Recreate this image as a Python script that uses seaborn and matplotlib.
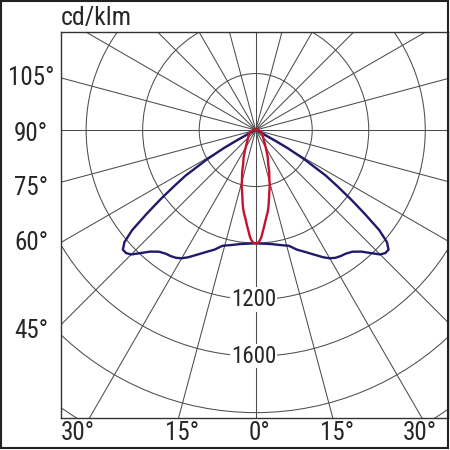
import numpy as np
import pandas as pd
import matplotlib
matplotlib.use("Agg")
import matplotlib.pyplot as plt
import seaborn as sns
from matplotlib.patches import Circle, Rectangle

# luminous intensity, cd/klm, vs gamma (deg from nadir)
# C0/C180 plane (blue, wide)
gamma_c0 = [0, 4, 8, 12, 16, 19, 22, 25, 28, 30, 32, 34, 36, 38.5, 41, 43, 45,
            46.5, 48, 49.5, 51, 52.5, 54, 55.5, 57, 59, 60.5, 61.5, 62.5, 65,
            70, 80, 90, 105, 120, 180]
cd_c0 = [802, 806, 815, 832, 852, 895, 930, 972, 1020, 1048, 1066, 1076, 1082,
         1100, 1140, 1190, 1245, 1265, 1265, 1222, 1125, 970, 830, 700, 590,
         400, 260, 150, 70, 35, 25, 18, 12, 6, 0, 0]
# C90/C270 plane (red, narrow)
gamma_c90 = [0, 1, 2, 3, 4, 5, 6, 7, 8, 9, 10, 12, 14, 16, 18, 20, 24, 28, 35,
             45, 56, 70, 90, 110, 130, 180]
cd_c90 = [802, 800, 785, 760, 720, 685, 650, 620, 595, 565, 530, 460, 410, 350,
          310, 260, 210, 160, 110, 75, 60, 40, 20, 8, 0, 0]

ring_values = [400, 800, 1200, 1600, 2000, 2400]
ring_labels = [1200, 1600]
spoke_step = 15
left_labels = ["105°", "90°", "75°", "60°", "45°"]
left_label_y = [368, -28, -410, -796, -1422]
bottom_labels = ["30°", "15°", "0°", "15°", "30°"]
bottom_angles = [-30, -15, 0, 15, 30]

XLIM = (-1378, 1361)
YLIM = (-2038, 694)
BLUE = "#1f1a6b"
RED = "#c4122f"
GRID = "#4d4d4d"


def to_xy(gamma, cd, name):
    g = np.radians(np.asarray(gamma, dtype=float))
    r = np.asarray(cd, dtype=float)
    # left half goes from zenith down to nadir, right half back up
    x = np.concatenate([-r[::-1] * np.sin(g[::-1]), r * np.sin(g)])
    y = np.concatenate([-r[::-1] * np.cos(g[::-1]), -r * np.cos(g)])
    return pd.DataFrame({"x": x, "y": y, "plane": name})


df = pd.concat([to_xy(gamma_c0, cd_c0, "C0-C180"),
                to_xy(gamma_c90, cd_c90, "C90-C270")], ignore_index=True)

sns.set_theme(style="white")
plt.rcParams["font.family"] = ["Roboto Condensed", "Liberation Sans Narrow", "DejaVu Sans"]

fig = plt.figure(figsize=(4.5, 4.5), dpi=100)
ax = fig.add_axes([61 / 450, 32 / 450, 387 / 450, 386 / 450])

# polar grid
for rv in ring_values:
    ax.add_patch(Circle((0, 0), rv, fill=False, ec=GRID, lw=0.75, zorder=1))
for a in np.arange(0, 360, spoke_step):
    t = np.radians(a)
    ax.plot([0, 4000 * np.sin(t)], [0, -4000 * np.cos(t)], color=GRID, lw=0.75, zorder=1)

sns.lineplot(data=df, x="x", y="y", hue="plane", palette=[BLUE, RED],
             sort=False, estimator=None, legend=False, lw=1.7, ax=ax, zorder=3)

for rv in ring_labels:
    ax.text(-15, -rv, str(rv), ha="center", va="center", fontsize=16.5,
            bbox=dict(fc="white", ec="none", pad=0.5), zorder=2)

ax.set_xlim(*XLIM)
ax.set_ylim(*YLIM)
ax.set_xticks([])
ax.set_yticks([])
ax.set_xlabel("")
ax.set_ylabel("")
for sp in ax.spines.values():
    sp.set_color("#333333")
    sp.set_linewidth(1.0)

ytr = ax.get_yaxis_transform()
for lab, yv in zip(left_labels, left_label_y):
    ax.text(-30 / 387, yv, lab, transform=ytr, ha="center", va="center", fontsize=18)

xtr = ax.get_xaxis_transform()
for lab, a in zip(bottom_labels, bottom_angles):
    xv = -YLIM[0] * np.tan(np.radians(a))
    if a == -30:
        ax.text(0.0, -0.04, lab, transform=ax.transAxes, ha="left", va="center", fontsize=18)
    elif a == 30:
        ax.text(376 / 387, -0.04, lab, transform=ax.transAxes, ha="right", va="center", fontsize=18)
    else:
        ax.text(xv + 28, -0.04, lab, transform=xtr, ha="center", va="center", fontsize=18)

ax.text(0.0, 1.018, "cd/klm", transform=ax.transAxes, ha="left", va="baseline", fontsize=18.5)

fig.add_artist(Rectangle((0.002, 0.004), 0.994, 0.994, transform=fig.transFigure,
                         fill=False, ec="#222222", lw=1.5))

fig.savefig("out.png", dpi=100)
